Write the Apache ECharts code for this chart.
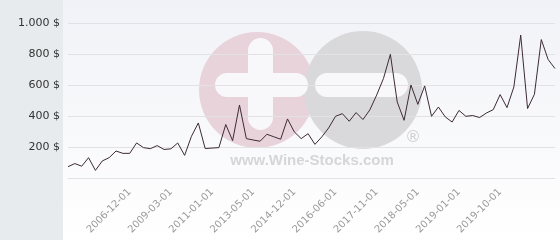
<!DOCTYPE html>
<html>
<head>
<meta charset="utf-8">
<script src="https://cdn.jsdelivr.net/npm/echarts@6/dist/echarts.min.js"></script>
<style>
html,body{margin:0;padding:0;background:#fff;}
#chart{width:560px;height:240px;}
</style>
</head>
<body>
<div id="chart"></div>
<script>
var categories = [
  '2003-12-01','2004-04-01','2004-08-01','2004-12-01','2005-04-01','2005-08-01','2005-12-01','2006-04-01','2006-08-01',
  '2006-12-01',
  '2007-04-01','2007-09-01','2008-01-01','2008-06-01','2008-10-01','2009-03-01',
  '2009-07-01','2009-11-01','2010-03-01','2010-06-01','2010-09-01','2011-01-01',
  '2011-06-01','2011-11-01','2012-04-01','2012-08-01','2012-12-01','2013-05-01',
  '2013-08-01','2013-11-01','2014-02-01','2014-05-01','2014-09-01','2014-12-01',
  '2015-03-01','2015-06-01','2015-09-01','2015-12-01','2016-03-01','2016-06-01',
  '2016-09-01','2016-12-01','2017-03-01','2017-06-01','2017-09-01','2017-11-01',
  '2017-12-01','2018-01-01','2018-02-01','2018-03-01','2018-04-01','2018-05-01',
  '2018-06-01','2018-07-01','2018-09-01','2018-10-01','2018-11-01','2019-01-01',
  '2019-02-01','2019-04-01','2019-05-01','2019-07-01','2019-08-01','2019-10-01',
  '2019-11-01','2019-12-01','2020-01-01','2020-02-01','2020-03-01','2020-04-01','2020-05-01','2020-06-01'
];
var prices = [
  75, 95, 78, 133, 51, 112, 133, 176, 161,
  161,
  228, 198, 191, 211, 186, 190,
  228, 148, 271, 357, 192, 195,
  198, 347, 243, 473, 256, 247,
  239, 284, 268, 252, 383, 299,
  256, 288, 219, 267, 325, 400,
  417, 368, 424, 379, 441, 537,
  645, 800, 492, 374, 602, 477,
  596, 400, 460, 396, 363, 438,
  400, 405, 392, 421, 443, 540,
  456, 589, 924, 450, 542, 895, 766, 708
];
var tickLabels = ['2006-12-01','2009-03-01','2011-01-01','2013-05-01','2014-12-01','2016-06-01','2017-11-01','2018-05-01','2019-01-01','2019-10-01'];
var yTicks = [0, 200, 400, 600, 800, 1000];

function fmtMoney(v){
  if (v === 0) return '';
  var s = String(v).replace(/\B(?=(\d{3})+(?!\d))/g, '.');
  return s + ' $';
}

var chart = echarts.init(document.getElementById('chart'), null, {renderer:'canvas'});
chart.setOption({
  animation: false,
  backgroundColor: {
    type:'linear', x:0, y:0, x2:0, y2:1,
    colorStops:[{offset:0,color:'#f1f2f7'},{offset:1,color:'#ffffff'}]
  },
  graphic: [
    {type:'rect', z:-10, silent:true, shape:{x:0,y:0,width:63,height:240}, style:{fill:'#e7ebee'}},
    {type:'circle', z:-5, silent:true, shape:{cx:257,cy:90,r:58}, style:{fill:'#e9d3db'}},
    {type:'circle', z:-4, silent:true, shape:{cx:363,cy:90,r:59}, style:{fill:'#d9d9dc'}},
    {type:'rect', z:-3, silent:true, shape:{x:248,y:38,width:25,height:92,r:12.5}, style:{fill:'#f8f8fa'}},
    {type:'rect', z:-3, silent:true, shape:{x:215,y:73,width:93,height:24,r:12}, style:{fill:'#f8f8fa'}},
    {type:'rect', z:-3, silent:true, shape:{x:315,y:73,width:93,height:24,r:12}, style:{fill:'#f8f8fa'}},
    {type:'text', z:-3, silent:true, x:312, y:161, style:{text:'www.Wine-Stocks.com', fill:'#d6d6d8', font:'bold 15px "Liberation Sans", Arial, sans-serif', textAlign:'center', textVerticalAlign:'middle'}},
    {type:'text', z:-3, silent:true, x:413, y:138, style:{text:'®', fill:'#d0d0d2', font:'16px "DejaVu Sans", sans-serif', textAlign:'center', textVerticalAlign:'middle'}}
  ],
  grid: {left:68, top:23.3, width:487, height:155, containLabel:false},
  xAxis: {
    type:'category',
    data: categories,
    boundaryGap:false,
    axisLine:{show:true, lineStyle:{color:'#e2e2e4', width:1}},
    axisTick:{show:false},
    splitLine:{show:false},
    axisLabel:{
      rotate:45,
      margin:12,
      color:'#9a9a9a',
      fontSize:10,
      fontFamily:'"DejaVu Sans", sans-serif',
      interval: function(i, v){ return tickLabels.indexOf(v) >= 0; }
    }
  },
  yAxis: {
    type:'value',
    min: yTicks[0], max: yTicks[yTicks.length-1], interval: 200,
    axisLine:{show:false},
    axisTick:{show:false},
    splitLine:{show:true, lineStyle:{color:'#e2e2e4', width:1}},
    axisLabel:{
      margin:8,
      color:'#333333',
      fontSize:11,
      fontFamily:'"DejaVu Sans", sans-serif',
      formatter: fmtMoney
    }
  },
  series: [{
    type:'line',
    data: prices,
    showSymbol:false,
    symbol:'none',
    lineStyle:{color:'#3d2a36', width:1},
    z:5
  }]
});
</script>
</body>
</html>
